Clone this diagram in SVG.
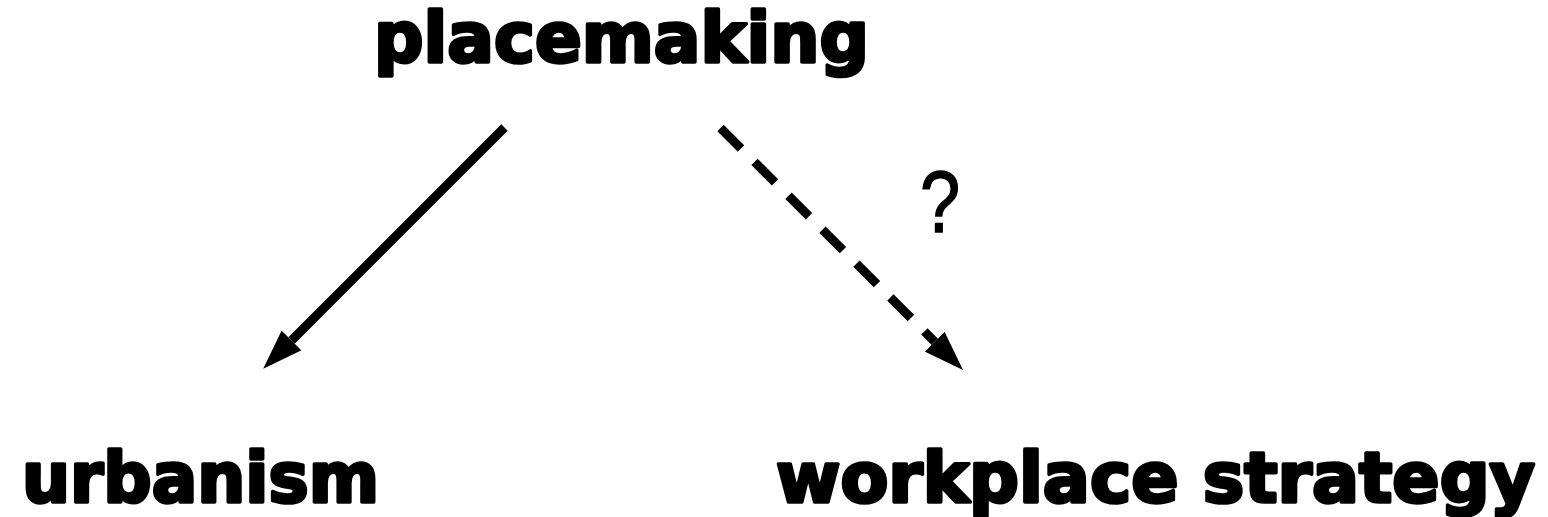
<svg xmlns="http://www.w3.org/2000/svg" width="1548" height="517" viewBox="0 0 1548 517">
  <style>
    .label { font-family: "DejaVu Sans", "Liberation Sans", sans-serif; font-weight: bold; font-size: 69px; fill: #000; stroke: #000; stroke-width: 3.5; stroke-linejoin: round; }
    .q { font-family: "Liberation Sans", Arial, sans-serif; font-size: 88px; fill: #000; stroke: #000; stroke-width: 1.5; }
    .conn { stroke: #000; stroke-width: 9; fill: none; }
    .dashed { stroke-dasharray: 29 19; }
  </style>
  <defs>
    <marker id="arrow" markerUnits="userSpaceOnUse" viewBox="0 0 40 28" refX="0" refY="14" markerWidth="40" markerHeight="28" orient="auto">
      <path d="M0,0 L40,14 L0,28 z" fill="#000"/>
    </marker>
  </defs>
  <rect width="1548" height="517" fill="#fff"/>
  <g id="node-placemaking">
    <text class="label" x="374" y="62" textLength="495" lengthAdjust="spacingAndGlyphs">placemaking</text>
  </g>
  <g id="node-urbanism">
    <text class="label" x="22" y="502" textLength="357" lengthAdjust="spacingAndGlyphs">urbanism</text>
  </g>
  <g id="node-workplace-strategy">
    <text class="label" x="776" y="502" textLength="759" lengthAdjust="spacingAndGlyphs">workplace strategy</text>
  </g>
  <g id="connectors">
    <line class="conn" x1="504.5" y1="127.5" x2="291.5" y2="340.5" marker-end="url(#arrow)"/>
    <line class="conn dashed" x1="720.5" y1="128" x2="934.7" y2="341.7" marker-end="url(#arrow)"/>
    <text class="q" x="940" y="232" text-anchor="middle" transform="translate(940 0) scale(0.82 1) translate(-940 0)">?</text>
  </g>
</svg>
